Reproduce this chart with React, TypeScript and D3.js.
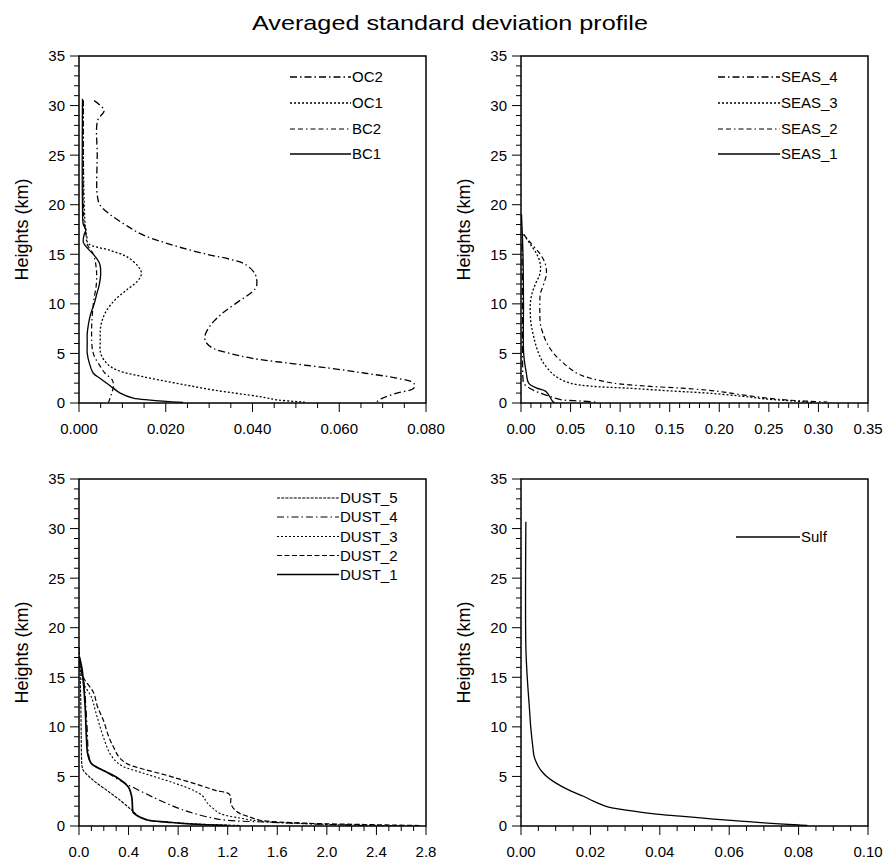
import React from "react";
import * as d3 from "d3";

// ---------- DATA (x = std deviation, h = height km) ----------
const OC2_H = [30.5, 29.5, 28.5, 25, 21, 20, 19, 18, 17, 16, 15, 14.5, 14, 13, 12, 11.5, 10, 9, 8, 7, 6.5, 6, 5.5, 5, 4.5, 4, 3.5, 3, 2.5, 2, 1.5, 1, 0.5, 0.1];
const OC2_X = [0.0035, 0.0058, 0.0043, 0.0042, 0.0042, 0.0048, 0.0072, 0.0106, 0.0145, 0.021, 0.0295, 0.0348, 0.0383, 0.0406, 0.041, 0.0406, 0.036, 0.0329, 0.0306, 0.0292, 0.029, 0.0295, 0.031, 0.0348, 0.04, 0.0487, 0.058, 0.066, 0.0733, 0.0772, 0.0772, 0.0733, 0.07, 0.0685];

const OC1_H = [30.5, 25, 20, 17.5, 16.8, 16.1, 15.4, 14.76, 13.75, 13.08, 12.4, 11.4, 10.4, 9.05, 7.7, 6.35, 5.0, 4.0, 3.33, 2.65, 1.99, 1.31, 0.64, 0.3, 0.1];
const OC1_X = [0.001, 0.001, 0.0012, 0.0015, 0.0018, 0.0021, 0.0071, 0.011, 0.0137, 0.0144, 0.0137, 0.011, 0.0083, 0.006, 0.005, 0.0049, 0.005, 0.0064, 0.0087, 0.0148, 0.0225, 0.031, 0.0417, 0.046, 0.052];

const BC2_H = [30.5, 25, 20, 18, 17, 16, 15, 13.5, 12, 10, 7, 5, 3.7, 3, 2.3, 1.6, 0.8, 0.05];
const BC2_X = [0.001, 0.001, 0.001, 0.0012, 0.0016, 0.0019, 0.0033, 0.004, 0.004, 0.0033, 0.0029, 0.0033, 0.0049, 0.006, 0.0077, 0.0079, 0.0074, 0.0068];

const BC1_H = [30.7, 20, 18, 17.5, 17, 16.2, 15.5, 14.8, 14, 13, 12, 11, 10, 9, 8, 7, 6, 5, 4, 3, 2.5, 2, 1.5, 1, 0.5, 0.3, 0.05];
const BC1_X = [0.0008, 0.0008, 0.001, 0.0016, 0.0012, 0.001, 0.0022, 0.0037, 0.0048, 0.005, 0.0047, 0.0041, 0.0035, 0.0027, 0.0022, 0.0019, 0.0019, 0.0019, 0.0024, 0.0033, 0.0048, 0.0064, 0.0079, 0.0095, 0.0125, 0.0164, 0.024];

const SEAS4_H = [16, 10, 5, 2.5, 1.95, 1.28, 0.77, 0.34, 0.2, 0.08];
const SEAS4_X = [0.001, 0.0015, 0.0015, 0.002, 0.003, 0.0128, 0.026, 0.04, 0.06, 0.077];

const SEAS3_H = [17, 16, 15, 14, 13, 12, 11, 10, 9, 8, 7, 6, 5, 4, 3, 2.5, 2, 1.7, 1.5, 1.2, 1, 0.7, 0.4, 0.2, 0.05];
const SEAS3_X = [0.0027, 0.0094, 0.016, 0.0195, 0.019, 0.0145, 0.011, 0.0094, 0.0094, 0.0101, 0.0121, 0.0145, 0.0178, 0.0229, 0.0313, 0.038, 0.0498, 0.07, 0.107, 0.154, 0.188, 0.2215, 0.248, 0.275, 0.2955];

const SEAS2_H = [17, 16, 15, 14, 13, 12, 11, 10, 9, 8, 7, 6, 5, 4, 3, 2.5, 2, 1.7, 1.5, 1.3, 1.1, 0.8, 0.5, 0.3, 0.1];
const SEAS2_X = [0.0027, 0.011, 0.0195, 0.0246, 0.0256, 0.0229, 0.0195, 0.019, 0.019, 0.0195, 0.0222, 0.0263, 0.033, 0.0431, 0.0565, 0.07, 0.0936, 0.127, 0.161, 0.188, 0.2046, 0.225, 0.248, 0.2686, 0.309];

const SEAS1_H = [19, 15, 10, 5, 3, 2, 1.5, 1.2, 0.8, 0.3, 0.02];
const SEAS1_X = [0.0005, 0.002, 0.0025, 0.0027, 0.0054, 0.0077, 0.016, 0.0246, 0.028, 0.031, 0.0337];

const DUST5_H = [18, 15, 12, 9, 7, 6, 5.6, 4.6, 3.6, 2.6, 1.6, 0.9, 0.58, 0.4, 0.2, 0.05];
const DUST5_X = [0.002, 0.01, 0.015, 0.018, 0.02, 0.025, 0.035, 0.116, 0.224, 0.331, 0.426, 0.49, 0.56, 0.71, 0.95, 1.3];

const DUST4_H = [16, 14, 12, 10, 8, 7, 6.3, 5.6, 4.6, 3.5, 2.6, 1.8, 1.3, 0.8, 0.58, 0.4, 0.2, 0.05];
const DUST4_X = [0.02, 0.045, 0.055, 0.065, 0.072, 0.08, 0.1, 0.2, 0.33, 0.5, 0.65, 0.8, 0.92, 1.08, 1.19, 1.5, 1.9, 2.3];

const DUST3_H = [16.5, 15.5, 14.4, 13, 11.5, 10, 8.5, 7.3, 6.5, 6.0, 5.4, 4.8, 4.2, 3.6, 3.0, 2.4, 1.8, 1.25, 0.8, 0.48, 0.25, 0.1, 0.03];
const DUST3_X = [0.005, 0.015, 0.035, 0.1, 0.135, 0.17, 0.21, 0.25, 0.3, 0.358, 0.5, 0.654, 0.8, 0.923, 1.0, 1.03, 1.08, 1.14, 1.3, 1.46, 1.8, 2.2, 2.6];

const DUST2_H = [16.5, 15.5, 14.7, 13.5, 12, 10.7, 9, 8.0, 7, 6.3, 5.8, 5.3, 4.7, 4.1, 3.6, 3.27, 2.9, 2.26, 1.6, 1.25, 0.9, 0.58, 0.3, 0.15, 0.05];
const DUST2_X = [0.005, 0.02, 0.048, 0.116, 0.15, 0.196, 0.24, 0.277, 0.32, 0.385, 0.5, 0.654, 0.82, 0.977, 1.1, 1.206, 1.225, 1.225, 1.26, 1.3, 1.38, 1.46, 1.8, 2.3, 2.75];

const DUST1_H = [17, 15.7, 12.4, 9, 7.3, 6.3, 5.6, 4.95, 3.94, 2.9, 1.6, 1.3, 0.9, 0.58, 0.4, 0.2, 0.05];
const DUST1_X = [0.005, 0.026, 0.048, 0.06, 0.07, 0.1, 0.196, 0.3, 0.398, 0.426, 0.433, 0.44, 0.49, 0.56, 0.71, 0.9, 1.2];

const SULF_H = [30.7, 18, 15, 12, 10, 8, 7, 6, 5.5, 5, 4.5, 4, 3.5, 3, 2.5, 2, 1.8, 1.5, 1.2, 1, 0.7, 0.5, 0.3, 0.1, 0.05];
const SULF_X = [0.0014, 0.0014, 0.0018, 0.0024, 0.0028, 0.0034, 0.0038, 0.005, 0.006, 0.0074, 0.0093, 0.0117, 0.0146, 0.018, 0.0209, 0.0243, 0.0267, 0.0324, 0.039, 0.0459, 0.0555, 0.0632, 0.071, 0.08, 0.0825];

const Y_TICKS = [0, 5, 10, 15, 20, 25, 30, 35];
const TITLE = "Averaged standard deviation profile";
const Y_LABEL = "Heights (km)";

// ---------- STYLES ----------
const DASH_DOT = "7,3,1.5,3";
const DOTTED = "2,2";
const DASH_DASH_DOT = "5,3,5,3,1.5,3";
const DASHED = "5,2.5";
const DENSE = "3,1.2";
const FONT = "'Liberation Sans', Arial, Helvetica, sans-serif";

type Series = { name: string; h: number[]; x: number[]; dash: string | null; width: number };

type PanelCfg = {
  left: number;
  top: number;
  xMax: number;
  xMajor: number;
  xMinor: number;
  fmt: string;
  series: Series[];
  legend: { x1: number; x2: number; ys: number[] };
};

const SIZE = 347;

const panels: PanelCfg[] = [
  {
    left: 79, top: 56, xMax: 0.08, xMajor: 0.02, xMinor: 0.005, fmt: ".3f",
    series: [
      { name: "OC2", h: OC2_H, x: OC2_X, dash: DASH_DOT, width: 1.3 },
      { name: "OC1", h: OC1_H, x: OC1_X, dash: DOTTED, width: 1.3 },
      { name: "BC2", h: BC2_H, x: BC2_X, dash: DASH_DASH_DOT, width: 1.2 },
      { name: "BC1", h: BC1_H, x: BC1_X, dash: null, width: 1.3 },
    ],
    legend: { x1: 211, x2: 272, ys: [21, 47, 73, 98] },
  },
  {
    left: 521, top: 56, xMax: 0.35, xMajor: 0.05, xMinor: 0.01, fmt: ".2f",
    series: [
      { name: "SEAS_4", h: SEAS4_H, x: SEAS4_X, dash: DASH_DOT, width: 1.3 },
      { name: "SEAS_3", h: SEAS3_H, x: SEAS3_X, dash: DOTTED, width: 1.3 },
      { name: "SEAS_2", h: SEAS2_H, x: SEAS2_X, dash: DASH_DASH_DOT, width: 1.2 },
      { name: "SEAS_1", h: SEAS1_H, x: SEAS1_X, dash: null, width: 1.3 },
    ],
    legend: { x1: 197, x2: 259, ys: [21, 47, 73, 98] },
  },
  {
    left: 79, top: 479, xMax: 2.8, xMajor: 0.4, xMinor: 0.1, fmt: ".1f",
    series: [
      { name: "DUST_5", h: DUST5_H, x: DUST5_X, dash: DENSE, width: 1.1 },
      { name: "DUST_4", h: DUST4_H, x: DUST4_X, dash: DASH_DOT, width: 1.2 },
      { name: "DUST_3", h: DUST3_H, x: DUST3_X, dash: DOTTED, width: 1.1 },
      { name: "DUST_2", h: DUST2_H, x: DUST2_X, dash: DASHED, width: 1.2 },
      { name: "DUST_1", h: DUST1_H, x: DUST1_X, dash: null, width: 1.7 },
    ],
    legend: { x1: 198, x2: 260, ys: [19, 38, 57.5, 76.5, 95.5] },
  },
  {
    left: 521, top: 479, xMax: 0.1, xMajor: 0.02, xMinor: 0.005, fmt: ".2f",
    series: [{ name: "Sulf", h: SULF_H, x: SULF_X, dash: null, width: 1.3 }],
    legend: { x1: 215, x2: 279, ys: [58] },
  },
];

function Panel({ cfg, idx }: { cfg: PanelCfg; idx: number }) {
  const { left, top, xMax, xMajor, xMinor, fmt, series, legend } = cfg;
  const x = d3.scaleLinear().domain([0, xMax]).range([0, SIZE]);
  const y = d3.scaleLinear().domain([0, 35]).range([SIZE, 0]);
  const f = d3.format(fmt);
  const nMaj = Math.round(xMax / xMajor);
  const majors = d3.range(nMaj + 1).map((i) => i * xMajor);
  const nMin = Math.round(xMax / xMinor);
  const minors = d3.range(nMin + 1).map((i) => i * xMinor);
  const yMinors = d3.range(36);
  const line = d3
    .line<[number, number]>()
    .x((d) => x(d[0]))
    .y((d) => y(d[1]))
    .curve(d3.curveCatmullRom.alpha(0.5));
  const clipId = `clip${idx}`;
  return (
    <g transform={`translate(${left},${top})`}>
      <defs>
        <clipPath id={clipId}>
          <rect x={0} y={0} width={SIZE} height={SIZE} />
        </clipPath>
      </defs>
      {yMinors.map((v) => (
        <line key={"ym" + v} x1={v % 5 === 0 ? -9 : -5} x2={0} y1={y(v)} y2={y(v)} stroke="#000" strokeWidth={1} />
      ))}
      {Y_TICKS.map((v) => (
        <text key={"yt" + v} x={-14} y={y(v)} dy="0.36em" textAnchor="end" fontSize={15} fontFamily={FONT} fill="#000">
          {v}
        </text>
      ))}
      {minors.map((v, i) => (
        <line key={"xm" + i} x1={x(v)} x2={x(v)} y1={SIZE} y2={SIZE + (Math.abs(v / xMajor - Math.round(v / xMajor)) < 1e-6 ? 9 : 5)} stroke="#000" strokeWidth={1} />
      ))}
      {majors.map((v, i) => (
        <text key={"xt" + i} x={x(v)} y={SIZE + 26} dy="0.36em" textAnchor="middle" fontSize={15} fontFamily={FONT} fill="#000">
          {f(v)}
        </text>
      ))}
      <text
        transform={`translate(${-51},${SIZE / 2}) rotate(-90)`}
        textAnchor="middle"
        fontSize={18}
        fontFamily={FONT}
        fill="#000"
      >
        {Y_LABEL}
      </text>
      <g clipPath={`url(#${clipId})`}>
        {series.map((s) => (
          <path
            key={s.name}
            d={line(s.x.map((v, i) => [v, s.h[i]] as [number, number])) || ""}
            fill="none"
            stroke="#000"
            strokeWidth={s.width}
            strokeDasharray={s.dash || undefined}
          />
        ))}
      </g>
      <rect x={0} y={0} width={SIZE} height={SIZE} fill="none" stroke="#000" strokeWidth={1.5} />
      {series.map((s, i) => (
        <g key={"lg" + s.name}>
          <line
            x1={legend.x1}
            x2={legend.x2}
            y1={legend.ys[i]}
            y2={legend.ys[i]}
            stroke="#000"
            strokeWidth={s.width}
            strokeDasharray={s.dash || undefined}
          />
          <text x={legend.x2 + 1} y={legend.ys[i]} dy="0.36em" fontSize={15} fontFamily={FONT} fill="#000">
            {s.name}
          </text>
        </g>
      ))}
    </g>
  );
}

export default function App() {
  return (
    <svg
      width={885}
      height={860}
      style={{ position: "absolute", left: 0, top: 0, background: "#fff" }}
    >
      <rect x={0} y={0} width={885} height={860} fill="#fff" />
      <text x={450} y={30} textAnchor="middle" fontSize={21} fontFamily={FONT} fill="#000" textLength={396} lengthAdjust="spacingAndGlyphs">
        {TITLE}
      </text>
      {panels.map((p, i) => (
        <Panel key={i} cfg={p} idx={i} />
      ))}
    </svg>
  );
}
